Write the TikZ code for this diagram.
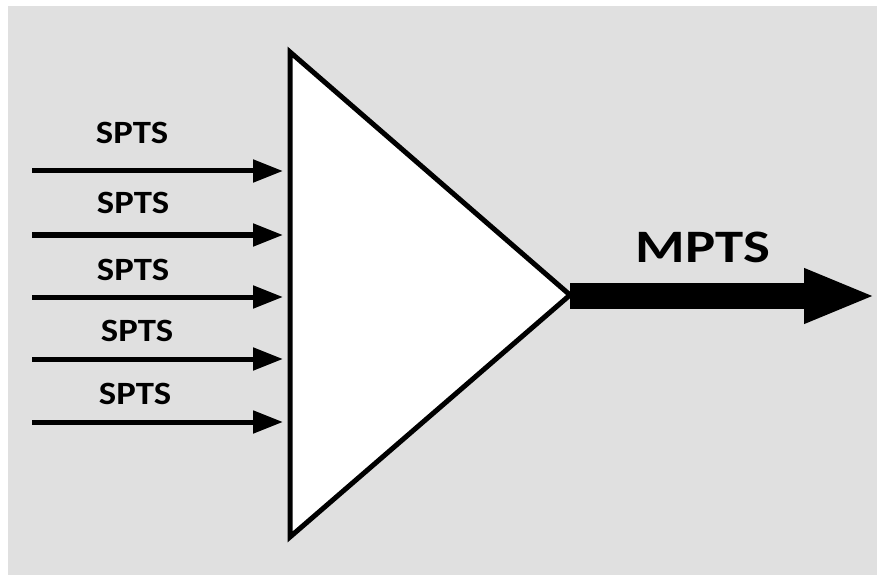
\documentclass[tikz,border=0pt]{standalone}
\usepackage{graphicx}
\usepackage{fontspec}
\setmainfont{Carlito}
\usetikzlibrary{arrows.meta,positioning}
\definecolor{bggray}{RGB}{224,224,224}
\newcommand{\widetext}[2]{\scalebox{#1}[1]{#2}}
\begin{document}
\begin{tikzpicture}[x=1pt,y=-1pt,
	feed/.style={line width=5pt,-{Triangle[length=30pt,width=22pt]}},
	bus/.style={line width=26pt,-{Triangle[length=72pt,width=50pt]}},
	spts/.style={font=\bfseries\fontsize{32.5}{36}\selectfont,inner sep=0pt},
	mpts/.style={font=\bfseries\fontsize{46.5}{50}\selectfont,inner sep=0pt}]
	\useasboundingbox (0,0) rectangle (877,577);
	\fill[white] (0,0) rectangle (877,577);
	\fill[bggray] (8,6) rectangle (877,575);
	% multiplexer
	\coordinate (top) at (290,52);
	\coordinate (bot) at (290,537);
	\coordinate (tip) at (570,295);
	\draw[line width=5pt,fill=white] (top) -- (tip) -- (bot) -- cycle;
	% inputs
	\foreach \y/\lx/\ly [count=\i] in {171/132/133,235/133/203,297/133/270,359/137/331,422/135/394} {
		\coordinate (in\i) at (32,\y);
		\coordinate (end\i) at (283,\y);
		\draw[feed] (in\i) -- (end\i);
		\node[spts] (spts\i) at (\lx,\ly) {\widetext{1.13}{SPTS}};
	}
	% output
	\coordinate (out) at (876,296);
	\draw[bus] (tip |- out) -- (out);
	\node[mpts] (mptslbl) at (703,247) {\widetext{1.22}{MPTS}};
\end{tikzpicture}
\end{document}
